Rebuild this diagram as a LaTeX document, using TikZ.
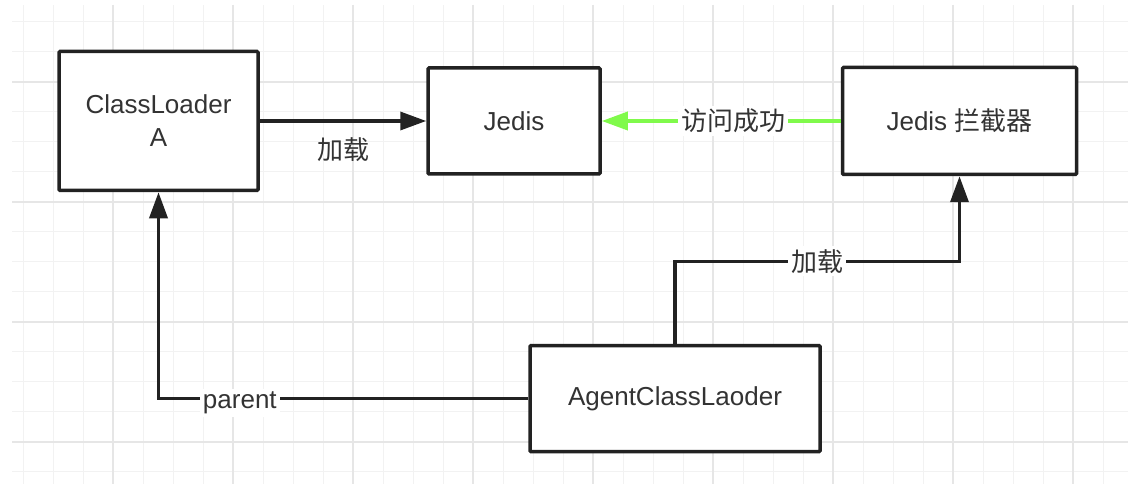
\documentclass[tikz,border=0pt]{standalone}
\usepackage{fontspec}
\setmainfont{Liberation Sans}
\newfontfamily\cjk{Noto Sans CJK SC}
\usetikzlibrary{arrows.meta,calc,positioning}
\definecolor{edge}{HTML}{222222}
\definecolor{ink}{HTML}{333333}
\definecolor{okgreen}{RGB}{128,250,75}
\definecolor{gridthin}{HTML}{F2F2F2}
\definecolor{gridthick}{HTML}{E6E6E6}

\begin{document}
\begin{tikzpicture}[x=1pt,y=-1pt,>={Triangle[length=26pt,width=18pt]},
 box/.style={draw=edge,line width=3.5pt,rounded corners=1pt,fill=white,text=ink,align=center,inner sep=0pt,font=\fontsize{26}{33}\selectfont},
 link/.style={draw=edge,line width=3.5pt,->},
 lbl/.style={fill=white,text=ink,inner sep=3pt,font=\fontsize{26}{30}\selectfont}]
\useasboundingbox (0,0) rectangle (1144,484);
% grid paper
\foreach \k in {0,...,36}{
 \draw[gridthin,line width=1.5pt] ({23.3+30*\k},5)--({23.3+30*\k},484);
}
\foreach \j in {0,...,15}{
 \draw[gridthin,line width=1.5pt] (12,{21.7+30*\j})--(1128,{21.7+30*\j});
}
\foreach \k in {3,7,...,35}{
 \draw[gridthick,line width=2pt] ({23.3+30*\k},5)--({23.3+30*\k},484);
}
\foreach \j in {2,6,10,14}{
 \draw[gridthick,line width=2pt] (12,{21.7+30*\j})--(1128,{21.7+30*\j});
}
% loaders and classes
\node[box,minimum width=199pt,minimum height=139pt] (loaderA) at (158.5,121) {ClassLoader\\A};
\node[box,minimum width=172pt,minimum height=106pt] (jedis) at (514,121) {Jedis};
\node[box,minimum width=234pt,minimum height=107pt] (hook) at (959.5,121) {Jedis {\cjk 拦截器}};
\node[box,minimum width=290pt,minimum height=106pt] (agent) at (675,398.7) {AgentClassLaoder};
\coordinate (rise) at (675,261.3);
% links
\draw[link] (loaderA.east) -- node[lbl,fill=none,below=12pt]{\cjk 加载} (jedis.west);
\draw[link,draw=okgreen] (hook.west) -- node[lbl,pos=0.45]{\cjk 访问成功} (jedis.east);
\draw[link] (agent.north) -- (rise) -| node[lbl,pos=0.25]{\cjk 加载} (hook.south);
\draw[link] (agent.west) -| node[lbl,pos=0.39,yshift=-4pt]{parent} (loaderA.south);
\end{tikzpicture}
\end{document}
